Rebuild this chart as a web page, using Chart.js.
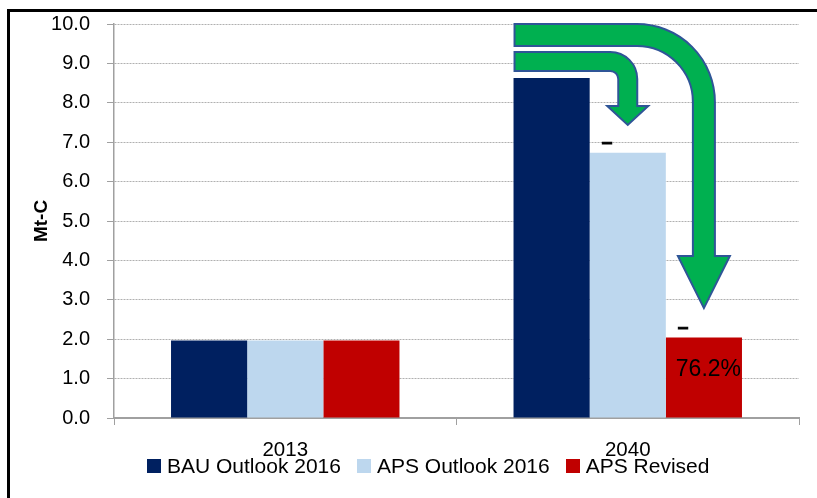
<!DOCTYPE html>
<html>
<head>
<meta charset="utf-8">
<script src="https://cdn.jsdelivr.net/npm/chart.js@4/dist/chart.umd.min.js"></script>
<style>
  body { margin: 0; background: #fff; }
  #wrap { position: relative; width: 817px; height: 498px; overflow: hidden; background: #fff; }
  #frame { position: absolute; left: 7px; top: 9px; width: 830px; height: 520px; border-left: 3px solid #000; border-top: 3px solid #000; }
  canvas { position: absolute; left: 0; top: 0; }
  #legend { position: absolute; left: 147px; top: 452px; display: flex; align-items: center;
            font-family: "Liberation Sans", Arial, sans-serif; font-size: 21px; color: #000; line-height: 28px; }
  #legend .item { display: flex; align-items: center; margin-right: 16px; }
  #legend .box { width: 14px; height: 14px; margin-right: 6px; }
</style>
</head>
<body>
<div id="wrap">
  <div id="frame"></div>
  <canvas id="chart" width="817" height="498"></canvas>
  <div id="legend"></div>
</div>
<script>
const years = ['2013', '2040'];
const seriesNames = ['BAU Outlook 2016', 'APS Outlook 2016', 'APS Revised'];
const bauOutlook = [1.97, 8.63];
const apsOutlook = [1.97, 6.73];
const apsRevised = [1.97, 2.04];
const yTicks = [0, 1, 2, 3, 4, 5, 6, 7, 8, 9, 10];
const reductionText = '76.2%';

const colors = ['#002060', '#BDD7EE', '#C00000'];
const font = '"Liberation Sans", Arial, sans-serif';

// arrow shapes for the 2040 group: start at the BAU bar, bend down onto a target bar
const arrowShapes = [
  { target: 1, top: 9.29, headBase: 7.92, tip: 7.44, thick: 19, radius: 27, headHalf: 20.5 },
  { target: 2, top: 10.0, headBase: 4.11, tip: 2.79, thick: 22, radius: 78, headHalf: 26 }
];

const overlays = {
  id: 'overlays',
  afterDatasetsDraw(chart) {
    const ctx = chart.ctx;
    const y = chart.scales.y;
    const i = 1;
    const bau = chart.getDatasetMeta(0).data[i];
    const x0 = bau.x - bau.width / 2 + 1;

    arrowShapes.forEach(a => {
      const bar = chart.getDatasetMeta(a.target).data[i];
      const cx = bar.x;
      const yt = y.getPixelForValue(a.top);
      const w = a.thick;
      const ro = a.radius;
      const ri = ro - w;
      const ax = cx + w / 2 - ro;
      const ay = yt + ro;
      const hb = y.getPixelForValue(a.headBase);
      const tp = y.getPixelForValue(a.tip);
      ctx.save();
      ctx.beginPath();
      ctx.moveTo(x0, yt);
      ctx.lineTo(ax, yt);
      ctx.arc(ax, ay, ro, -Math.PI / 2, 0);
      ctx.lineTo(cx + w / 2, hb);
      ctx.lineTo(cx + a.headHalf, hb);
      ctx.lineTo(cx, tp);
      ctx.lineTo(cx - a.headHalf, hb);
      ctx.lineTo(cx - w / 2, hb);
      ctx.lineTo(cx - w / 2, ay);
      ctx.arc(ax, ay, ri, 0, -Math.PI / 2, true);
      ctx.lineTo(x0, yt + w);
      ctx.closePath();
      ctx.fillStyle = '#00B050';
      ctx.fill();
      ctx.lineWidth = 2;
      ctx.strokeStyle = '#2F5597';
      ctx.stroke();
      ctx.restore();
    });

    // change markers above the two APS bars, and the reduction inside the revised bar
    ctx.save();
    ctx.fillStyle = '#000';
    ctx.strokeStyle = '#000';
    ctx.lineWidth = 1;
    ctx.textAlign = 'left';
    ctx.textBaseline = 'middle';
    ctx.font = 'bold 19px ' + font;
    [1, 2].forEach(d => {
      const b = chart.getDatasetMeta(d).data[i];
      ctx.fillText('–', b.x - b.width / 2 + 12, b.y - 10);
      ctx.strokeText('–', b.x - b.width / 2 + 12, b.y - 10);
    });
    const rev = chart.getDatasetMeta(2).data[i];
    ctx.font = '23px ' + font;
    ctx.fillText(reductionText, rev.x - rev.width / 2 + 10, rev.y + 32);
    ctx.restore();
  }
};

const chart = new Chart(document.getElementById('chart'), {
  type: 'bar',
  data: {
    labels: years,
    datasets: [bauOutlook, apsOutlook, apsRevised].map((d, k) => ({
      label: seriesNames[k],
      data: d,
      backgroundColor: colors[k],
      borderWidth: 0,
      categoryPercentage: 0.667,
      barPercentage: 1.0
    }))
  },
  options: {
    responsive: false,
    animation: false,
    devicePixelRatio: 1,
    layout: { padding: { left: 8, right: 18, top: 24, bottom: 0 } },
    plugins: { legend: { display: false }, tooltip: { enabled: false } },
    scales: {
      x: {
        afterFit: s => { s.height = 80; },
        grid: { drawOnChartArea: false, drawTicks: true, tickLength: 7, color: '#A0A0A0', tickColor: '#A0A0A0' },
        border: { color: '#A0A0A0', width: 2 },
        ticks: { color: '#000', padding: 13, font: { family: font, size: 20.5 } }
      },
      y: {
        min: 0,
        max: 10,
        afterFit: s => { s.width = 106; s.paddingTop = 0; s.paddingBottom = 0; },
        afterBuildTicks: s => { s.ticks = yTicks.map(v => ({ value: v })); },
        grid: { color: '#B0B0B0', tickColor: '#A0A0A0', tickLength: 7, tickBorderDash: [] },
        border: { color: '#A0A0A0', width: 1.5, dash: [2, 1] },
        ticks: { color: '#000', padding: 17, font: { family: font, size: 20 }, callback: v => v.toFixed(1) },
        title: { display: true, text: 'Mt-C', color: '#000', padding: { top: 22, bottom: 0 }, font: { family: font, size: 19, weight: 'bold' } }
      }
    }
  },
  plugins: [overlays]
});

// legend as text under the axis, built from the same names and colours
const legend = document.getElementById('legend');
seriesNames.forEach((name, k) => {
  const item = document.createElement('div');
  item.className = 'item';
  const box = document.createElement('span');
  box.className = 'box';
  box.style.background = colors[k];
  const label = document.createElement('span');
  label.textContent = name;
  item.appendChild(box);
  item.appendChild(label);
  legend.appendChild(item);
});
</script>
</body>
</html>
